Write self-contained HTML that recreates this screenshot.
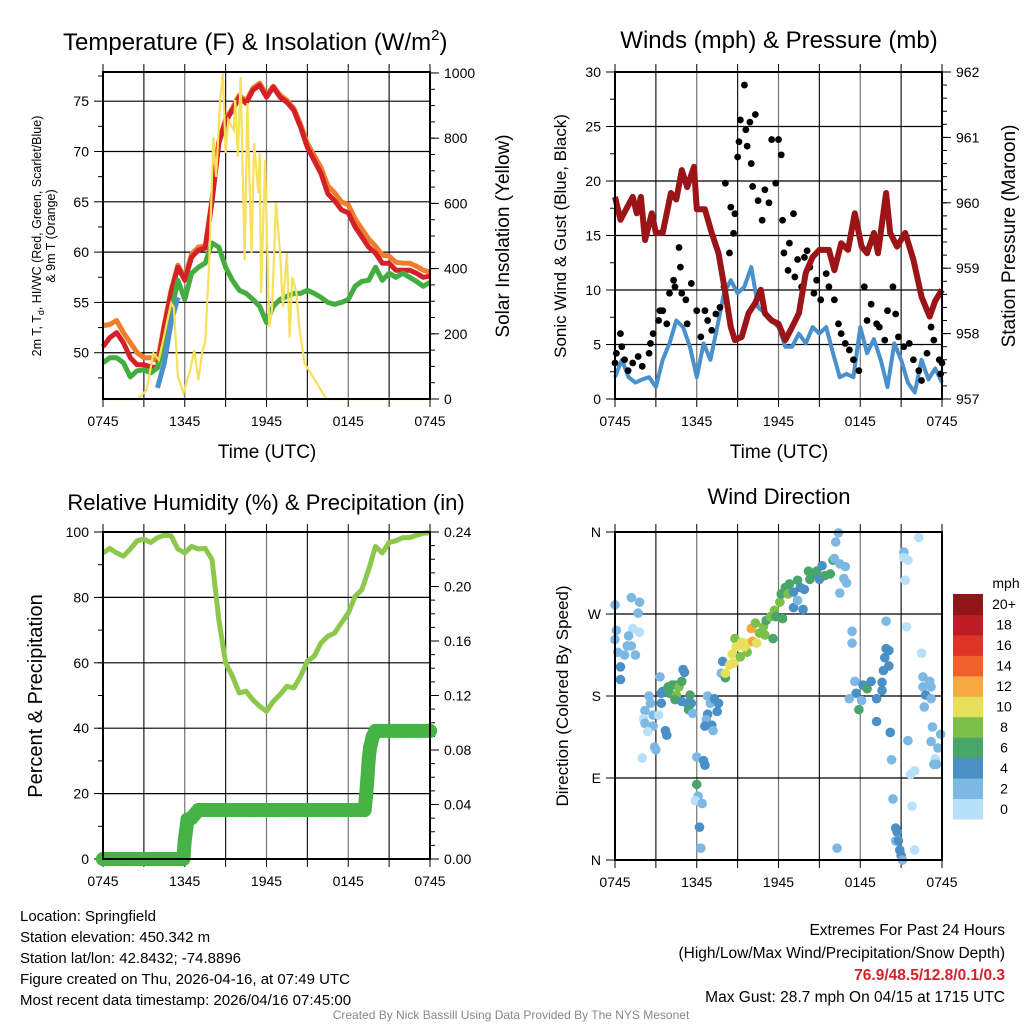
<!DOCTYPE html>
<html><head><meta charset="utf-8"><style>
html,body{margin:0;padding:0;background:#fff;}
svg{display:block;font-family:"Liberation Sans",Arial,sans-serif;}
</style></head><body>
<svg id="chart" width="1024" height="1024" viewBox="0 0 1024 1024" xmlns="http://www.w3.org/2000/svg"></svg>
<script>
// ===== DATA (0.5 h steps from 0745 UTC) =====
const timeTickLabels = ["0745","1345","1945","0145","0745"];
const tempRed = [50.6,51.5,52,51,49.5,48.8,48.8,48.6,48.5,52.6,56,58.5,57.2,59.5,60.2,60.4,65,70.8,73,74.1,75.4,74.8,76.1,76.6,75.4,76.4,75.4,74.9,74.1,72.4,70.4,69.1,67.8,65.8,65.1,64.2,63.9,62.5,61.5,60.5,59.9,58.9,58.9,58.2,58.2,58.2,57.9,57.5,57.6];
const tempOrange = [52.7,52.8,53.2,52,51,50,49.5,49.5,49.2,52.8,56.2,58.7,57.5,59.8,60.5,60.6,65.2,71,73.2,74.3,75.6,75,76.3,76.8,75.6,76.5,75.6,75.1,74.3,72.7,70.8,69.6,68.4,66.6,65.9,65,64.7,63.3,62.3,61.3,60.6,59.7,59.6,59,58.9,58.9,58.6,58.2,58];
const tempGreen = [49,49.5,49.5,49,47.6,48.2,48.3,48,48.5,51,54,57.2,55.3,57.9,58.5,58.9,60.9,60.5,58.5,57.2,56.2,55.9,55.3,54.6,53,54.6,55.3,55.6,55.9,55.9,56.2,55.9,55.5,55,54.8,55,55.3,56.6,57.1,57.2,58.5,57.2,57.9,57.5,57.9,57.5,57.1,56.6,57];
const tempBlue = [null,null,null,null,null,null,null,null,46.5,49,53,55.5,null,null,null,null,null,null,null,null,null,null,null,null,null,null,null,null,null,null,null,null,null,null,null,null,null,null,null,null,null,null,null,null,null,null,null,null,null];
const insolHours = [0,2.6,3.2,3.7,4.1,5.0,5.2,5.5,5.9,6.4,6.7,7.0,7.3,7.5,7.8,8.1,8.3,8.6,8.8,9.0,9.2,9.6,9.7,9.9,10.1,10.4,10.6,10.9,11.1,11.4,11.5,11.6,11.9,12.2,12.4,12.7,13.0,13.2,13.5,13.7,13.9,14.2,14.4,14.8,15.4,16.4,24];
const insolVals = [0,0,28,140,120,294,280,68,18,89,150,58,150,172,426,804,681,917,1000,755,856,825,917,742,988,426,908,448,785,632,755,325,733,221,273,601,448,282,448,190,374,325,221,110,68,0,0];
const windVals = [2,3.6,2,1.5,1.8,2,1.1,3.6,5.1,7.2,6.6,4.8,2,5.1,3.6,6.6,9.7,10.9,9.7,10.3,12.1,8.4,7.9,7.2,6.6,4.8,4.8,6,5.1,6.6,6,6.6,4.2,2,2.3,2,6.6,4.2,5.5,3.6,1.1,5.1,3.6,1.5,0.6,3.6,1.8,2.8,1.5];
const pressHours = [0,0.4,1.3,1.6,1.9,2.2,2.7,3.0,3.5,4.1,4.5,4.9,5.3,5.8,6.0,6.6,7.1,7.6,8.1,8.5,8.8,9.3,9.8,10.3,10.7,11.0,11.5,12.0,12.5,13.0,13.5,14.0,14.5,15.0,15.7,16.1,16.6,17.1,17.6,18.1,18.5,19.0,19.3,19.9,20.2,20.7,21.3,21.9,22.5,23.1,23.5,24];
const pressVals = [960.09,959.74,960.09,959.84,960.09,959.43,959.84,959.54,959.54,960.15,960.05,960.5,960.24,960.55,959.9,959.9,959.54,959.23,958.62,958.1,957.9,957.95,958.31,958.47,958.67,958.31,958.2,958.15,957.9,958.1,958.31,958.93,959.17,959.28,959.28,958.97,959.38,959.28,959.84,959.33,959.23,959.54,959.23,960.15,959.54,959.33,959.54,959.13,958.56,958.26,958.5,958.67];
const gustHours = [0,0.1,0.4,0.5,0.7,0.96,1.3,1.7,2.0,2.5,2.6,2.8,3.2,3.3,3.5,3.8,4.0,4.3,4.4,4.7,4.8,4.9,5.2,5.3,5.6,6.0,6.3,6.6,6.8,7.1,7.4,7.7,8.0,8.1,8.4,8.5,8.7,8.8,9.0,9.1,9.2,9.5,9.6,9.7,9.9,10.0,10.1,10.3,10.5,10.8,11.0,11.3,11.5,11.8,12.0,12.2,12.3,12.4,12.7,12.8,13.1,13.2,13.4,13.7,13.9,14.1,14.3,14.6,14.8,15.1,15.5,15.7,16.1,16.4,16.6,16.9,17.2,17.5,17.9,18.3,18.5,18.8,19.2,19.4,19.8,20.0,20.4,20.6,20.8,21.2,21.6,21.9,22.3,22.5,22.9,23.2,23.4,23.8,23.9,24.0];
const gustVals = [3.3,4.2,6.0,4.8,3.6,2.6,3.3,3.9,3.0,4.2,5.1,6.0,7.2,8.1,8.1,6.9,9.7,10.9,10.3,13.9,12.1,9.7,9.1,6.9,10.6,8.1,5.7,8.1,7.2,6.3,7.8,8.4,10.3,19.8,13.4,17.6,15.2,17.0,22.2,23.6,25.6,28.8,24.7,23.2,25.4,21.6,19.5,26.1,18.2,16.4,19.2,18.0,23.8,19.8,23.8,22.4,16.4,13.4,11.8,14.3,17.0,11.2,12.8,10.3,13.0,13.6,12.1,9.7,10.9,9.1,11.5,10.3,9.1,6.9,6.0,5.1,4.5,3.6,2.6,10.3,7.2,8.7,6.9,6.6,5.4,8.1,10.3,7.8,5.7,4.8,5.1,3.6,2.6,1.7,4.2,6.6,5.4,3.6,2.3,3.3];
const rhVals = [93.6,95,93.6,92.6,94.8,97.3,97.8,96.8,98.3,99,98.8,94.8,93.6,95.6,94.8,95,91.6,73.2,60,55.9,50.8,51.3,48.7,46.7,45.2,48.2,50.3,52.8,52.3,55.9,60.5,62,66.1,68.1,69.1,72.2,75.2,80.3,82.4,88.5,95.6,93.6,96.8,97.3,98.3,98.3,99,99.6,99.8];
const precipHours = [0,1,2,3,4,5,5.9,6.0,6.2,6.5,7.0,7.5,9,11,13,15,17,19.2,19.3,19.4,19.5,19.6,19.8,20.0,22,24];
const precipVals = [0,0,0,0,0,0,0,0.014,0.029,0.030,0.036,0.036,0.036,0.036,0.036,0.036,0.036,0.036,0.046,0.058,0.073,0.082,0.090,0.094,0.094,0.094];
const dirHours = [0,1.2,1.8,1.7,0.1,1.3,1.8,1.0,0,0.9,1.2,0.2,0.7,1.5,0.4,0.4,
3.3,2.5,2.6,2.2,2.8,2.1,3.2,2.2,2.8,2.4,3.7,3.8,2.9,3.0,2.0,3.4,3.5,3.4,3.9,4.2,4.4,4.7,4.9,4.0,4.5,4.4,5.0,5.1,4.9,5.3,5.5,5.6,5.4,5.7,6.8,7.0,7.3,7.6,7.5,6.8,6.7,6.6,7.1,7.2,6.0,6.5,6.6,6.0,6.1,5.9,6.4,6.2,6.3,
7.8,8.1,7.9,8.1,8.4,8.7,8.6,8.8,9.2,8.9,9.3,9.7,9.5,9.8,10.0,10.1,10.4,10.3,10.6,10.9,11.0,11.1,11.4,11.6,11.7,11.8,12.1,12.3,12.2,12.5,12.7,12.8,13.1,13.1,13.4,13.6,13.8,13.4,13.9,14.3,14.2,14.5,14.8,15.0,15.2,15.4,15.8,16.0,16.1,16.5,16.8,16.9,17.0,16.5,16.2,16.4,
17.4,17.4,19.9,19.9,20.1,19.8,20.1,19.7,19.6,17.6,17.7,18.2,18.5,18.8,19.6,19.2,18.1,17.2,17.9,19.2,20.2,20.3,20.4,20.6,20.7,20.6,20.8,20.9,21.0,21.1,
21.2,21.2,21.5,21.3,22.3,21.4,22.5,22.6,23.1,23.2,22.6,22.8,23.2,22.7,23.3,21.5,23.2,23.9,23.7,23.5,23.4,23.6,22.0,21.7,21.8,22.0,16.3];
const dirDeg = [280,288,283,271,252,254,250,246,242,235,235,228,225,225,212,198,
201,180,172,164,159,155,159,150,147,141,142,137,124,121,112,183,185,172,190,192,192,190,196,183,181,176,209,206,174,172,181,172,165,161,180,172,177,172,163,160,154,147,148,142,113,109,104,83,70,65,62,36,13,
205,200,218,205,214,216,226,243,223,234,239,228,234,238,254,240,238,260,249,256,247,263,267,243,274,267,283,265,292,299,292,303,294,277,285,299,275,307,297,308,317,314,317,308,323,312,314,329,331,325,309,322,304,293,349,359,
251,238,262,232,230,222,213,208,195,196,183,192,188,196,186,177,175,177,165,152,140,110,67,35,31,21,21,11,5,0,
338,332,329,307,354,256,227,201,196,190,190,181,177,168,146,131,130,138,123,111,105,105,98,94,59,11,13];
const dirSpeed = [3,3,3,3,3,1,1,3,3,3,3,3,3,3,5,5,
3,3,3,3,3,1.5,1.5,3,3,1,5,5,3,3,1,5,5,5,7,7,7,9,7,7,9,7,5,5,5,5,7,5,7,3,3,3,5,5,5,5,3,5,5,3,3,5,5,7,3,1.5,3,5,3,
3,7,5,11,11,11,11,9,9,11,11,9,11,11,13,13,11,9,9,9,9,7,9,7,9,7,9,7,7,7,9,7,5,5,3,5,5,7,5,7,7,7,7,5,5,7,7,7,3,3,3,3,3,3,3,3,
3,3,3,5,5,5,5,5,5,3,5,5,7,5,5,5,3,3,7,5,5,3,3,5,5,3,5,5,5,3,
3,1.5,1,1,1,1,1,3,3,3,3,5,3,3,3,3,3,3,3,1.5,3,3,1,1,1,1,3];
const cbLabels = ["0","2","4","6","8","10","12","14","16","18","20+"];
const cbColors = ["#b7e1f8","#7db8e4","#4a8fc6","#48a66b","#7cc04b","#e7e05a","#f6a841","#f0612b","#dc3528","#bc1c23","#8f1519"];

// ===== helpers =====
const NS="http://www.w3.org/2000/svg";
const svg=document.getElementById('chart');
function mk(tag,attrs,parent){const e=document.createElementNS(NS,tag);for(const k in attrs)e.setAttribute(k,attrs[k]);(parent||svg).appendChild(e);return e;}
function txt(s,attrs,parent){const e=mk('text',attrs,parent);e.textContent=s;return e;}

const panels={
 p1:{x0:103,x1:430,y0:72,y1:399},
 p2:{x0:615,x1:942,y0:72,y1:399},
 p3:{x0:103,x1:430,y0:532,y1:859},
 p4:{x0:615,x1:942,y0:532,y1:860}
};
function xs(p,h){return p.x0+h/24*(p.x1-p.x0);}
function ys(p,v,lo,hi){return p.y1-(v-lo)/(hi-lo)*(p.y1-p.y0);}

function frame(p,name,hLines){
  const g=mk('g',{});
  
  
  for(let i=1;i<8;i++){const x=xs(p,i*3);mk('line',{x1:x,x2:x,y1:p.y0,y2:p.y1,stroke:'#000','stroke-width':1.2,'stroke-opacity':(i%2?0.9:0.55)},g);}
  hLines.forEach(y=>mk('line',{x1:p.x0,x2:p.x1,y1:y,y2:y,stroke:'#000','stroke-width':1.2},g));
  for(let i=0;i<=8;i++){const x=xs(p,i*3);mk('line',{x1:x,x2:x,y1:p.y0,y2:p.y0-8,stroke:'#000','stroke-width':1},g);
    mk('line',{x1:x,x2:x,y1:p.y1,y2:p.y1+8,stroke:'#000','stroke-width':1},g);}
  for(let i=0;i<5;i++){const t=txt(timeTickLabels[i],{x:xs(p,i*6),y:p.y1+27,'font-size':14,'text-anchor':'middle'});
    }
}
function border(p,name){const r=mk('rect',{x:p.x0,y:p.y0,width:p.x1-p.x0,height:p.y1-p.y0,fill:'none',stroke:'#000','stroke-width':2});
  }
function yTicks(p,vals,labels,lo,hi,side,minorStep){
  const g=mk('g',{});
  
  
  const x=side==='left'?p.x0:p.x1, d=side==='left'?-1:1;
  if(minorStep){for(let v=lo;v<=hi+1e-9;v+=minorStep){const y=ys(p,v,lo,hi);if(y<p.y0-0.5)continue;mk('line',{x1:x,x2:x+d*5,y1:y,y2:y,stroke:'#000','stroke-width':1},g);}}
  vals.forEach((v,i)=>{const y=ys(p,v,lo,hi);mk('line',{x1:x,x2:x+d*9,y1:y,y2:y,stroke:'#000','stroke-width':1},g);
    txt(labels[i],{x:x+d*14,y:y+5,'font-size':14,'text-anchor':side==='left'?'end':'start'},g);});
}
function pathFrom(p,hours,vals,lo,hi){let d='',pen=false;hours.forEach((h,i)=>{const v=vals[i];if(v===null){pen=false;return;}
  d+=(pen?'L':'M')+xs(p,h).toFixed(1)+','+ys(p,v,lo,hi).toFixed(1);pen=true;});return d;}
const halfHours=tempRed.map((_,i)=>i*0.5);

// ===== Panel 1 =====
const p1=panels.p1, tLo=45.4, tHi=77.9;
frame(p1,'temperature',[50,55,60,65,70,75].map(v=>ys(p1,v,tLo,tHi)));
yTicks(p1,[50,55,60,65,70,75],["50","55","60","65","70","75"],tLo,tHi,'left',null);
{const g=mk('g',{});for(let v=47.5;v<78;v+=5){const y=ys(p1,v,tLo,tHi);mk('line',{x1:p1.x0,x2:p1.x0-5,y1:y,y2:y,stroke:'#000'},g);}}
yTicks(p1,[0,200,400,600,800,1000],["0","200","400","600","800","1000"],0,1003,'right',50);
[['orange-9m-temp-line',tempOrange,'#f07d2c'],['red-2m-temp-line',tempRed,'#d42128'],['green-dewpoint-line',tempGreen,'#44ad3f'],['blue-wind-chill-line',tempBlue,'#4a90cc']].forEach(s=>{
  const e=mk('path',{d:pathFrom(p1,halfHours,s[1],tLo,tHi),fill:'none',stroke:s[2],'stroke-width':5,'stroke-linejoin':'round'});
  });
{const e=mk('path',{d:pathFrom(p1,insolHours,insolVals,0,1003),fill:'none',stroke:'#f7e05a','stroke-width':2.2});
 }
border(p1,'temperature');
{const t=txt('Temperature (F) & Insolation (W/m',{x:63,y:50,'font-size':24});
 const s=mk('tspan',{dy:-10,'font-size':15},t);s.textContent='2';const s2=mk('tspan',{dy:10},t);s2.textContent=')';}
{const t=txt('Time (UTC)',{x:267,y:458,'font-size':19,'text-anchor':'middle'});}
{const t=txt('Solar Insolation (Yellow)',{x:0,y:0,'font-size':19,'text-anchor':'middle',transform:'translate(509,236) rotate(-90)'});}
{const t=txt('2m T, T',{x:0,y:0,'font-size':12.5,'text-anchor':'middle',transform:'translate(41,236) rotate(-90)'});
 const a=mk('tspan',{dy:3,'font-size':9},t);a.textContent='d';const b=mk('tspan',{dy:-3},t);b.textContent=', HI/WC (Red, Green, Scarlet/Blue)';
 const t2=txt('& 9m T (Orange)',{x:0,y:0,'font-size':12.5,'text-anchor':'middle',transform:'translate(55,236) rotate(-90)'});}

// ===== Panel 2 =====
const p2=panels.p2;
frame(p2,'winds',[5,10,15,20,25].map(v=>ys(p2,v,0,30)));
yTicks(p2,[0,5,10,15,20,25,30],["0","5","10","15","20","25","30"],0,30,'left',2.5);
yTicks(p2,[957,958,959,960,961,962],["957","958","959","960","961","962"],957,962,'right',0.2);
{const e=mk('path',{d:pathFrom(p2,halfHours,windVals,0,30),fill:'none',stroke:'#4a90cc','stroke-width':4,'stroke-linejoin':'round'});
 }
{const g=mk('g',{});
 gustHours.forEach((h,i)=>{const c=mk('circle',{cx:xs(p2,h),cy:ys(p2,gustVals[i],0,30),r:3.4,fill:'#000'},g);});}
{const e=mk('path',{d:pathFrom(p2,pressHours,pressVals,957,962),fill:'none',stroke:'#9b1518','stroke-width':6,'stroke-linejoin':'round'});
 }
border(p2,'winds');
{const t=txt('Winds (mph) & Pressure (mb)',{x:779,y:48,'font-size':24,'text-anchor':'middle'});}
{const t=txt('Time (UTC)',{x:779,y:458,'font-size':19,'text-anchor':'middle'});}
{const t=txt('Sonic Wind & Gust (Blue, Black)',{x:0,y:0,'font-size':17,'text-anchor':'middle',transform:'translate(566,236) rotate(-90)'});}
{const t=txt('Station Pressure (Maroon)',{x:0,y:0,'font-size':19,'text-anchor':'middle',transform:'translate(1015,236) rotate(-90)'});}

// ===== Panel 3 =====
const p3=panels.p3;
frame(p3,'humidity',[20,40,60,80].map(v=>ys(p3,v,0,100)));
yTicks(p3,[0,20,40,60,80,100],["0","20","40","60","80","100"],0,100,'left',10);
yTicks(p3,[0,0.04,0.08,0.12,0.16,0.2,0.24],["0.00","0.04","0.08","0.12","0.16","0.20","0.24"],0,0.24,'right',0.01);
{const e=mk('path',{d:pathFrom(p3,halfHours,rhVals,0,100),fill:'none',stroke:'#8cc84b','stroke-width':5,'stroke-linejoin':'round'});
 }
{const e=mk('path',{d:pathFrom(p3,precipHours,precipVals,0,0.24),fill:'none',stroke:'#46b345','stroke-width':14,'stroke-linejoin':'round','stroke-linecap':'round'});
 
 precipHours.forEach((h,i)=>{const c=mk('circle',{cx:xs(p3,h),cy:ys(p3,precipVals[i],0,0.24),r:7,fill:'#46b345'});});}
border(p3,'humidity');
{const t=txt('Relative Humidity (%) & Precipitation (in)',{x:266,y:510,'font-size':22,'text-anchor':'middle'});}
{const t=txt('Percent & Precipitation',{x:0,y:0,'font-size':20,'text-anchor':'middle',transform:'translate(42,696) rotate(-90)'});}

// ===== Panel 4 =====
const p4=panels.p4;
frame(p4,'wind-direction',[90,180,270].map(v=>ys(p4,v,0,360)));
yTicks(p4,[0,90,180,270,360],["N","E","S","W","N"],0,360,'left',null);
function binColor(s){let i=Math.floor(s/2);if(i>10)i=10;if(i<0)i=0;return cbColors[i];}
{const g=mk('g',{});
 dirHours.forEach((h,i)=>{const c=mk('circle',{cx:xs(p4,h),cy:ys(p4,dirDeg[i],0,360),r:4.8,fill:binColor(dirSpeed[i])},g);});}
border(p4,'wind-direction');
{const t=txt('Wind Direction',{x:779,y:504,'font-size':22,'text-anchor':'middle'});}
{const t=txt('Direction (Colored By Speed)',{x:0,y:0,'font-size':17,'text-anchor':'middle',transform:'translate(568,696) rotate(-90)'});}
{const g=mk('g',{});
 const bh=(819-594)/11;
 cbColors.forEach((c,i)=>{const y=819-(i+1)*bh;const r=mk('rect',{x:953,y:y,width:30,height:bh+0.5,fill:c},g);
   txt(cbLabels[i],{x:1004,y:y+bh/2+5,'font-size':14,'text-anchor':'middle'},g);});
 txt('mph',{x:1006,y:588,'font-size':14,'text-anchor':'middle'},g);}

// ===== Footer text =====
const leftLines=["Location: Springfield","Station elevation: 450.342 m","Station lat/lon: 42.8432; -74.8896","Figure created on Thu, 2026-04-16, at 07:49 UTC","Most recent data timestamp: 2026/04/16 07:45:00"];
leftLines.forEach((s,i)=>{const t=txt(s,{x:20,y:921+i*21,'font-size':15});});
{const a=txt('Extremes For Past 24 Hours',{x:1005,y:935,'font-size':15.5,'text-anchor':'end'});
 const b=txt('(High/Low/Max Wind/Precipitation/Snow Depth)',{x:1005,y:958,'font-size':15.5,'text-anchor':'end'});
 const c=txt('76.9/48.5/12.8/0.1/0.3',{x:1005,y:980,'font-size':15.5,'text-anchor':'end','font-weight':'bold',fill:'#d42128'});
 const d=txt('Max Gust: 28.7 mph On 04/15 at 1715 UTC',{x:1005,y:1002,'font-size':15.5,'text-anchor':'end'});
 const e=txt('Created By Nick Bassill Using Data Provided By The NYS Mesonet',{x:511,y:1019,'font-size':12,'text-anchor':'middle',fill:'#888'});}
</script>
</body></html>
